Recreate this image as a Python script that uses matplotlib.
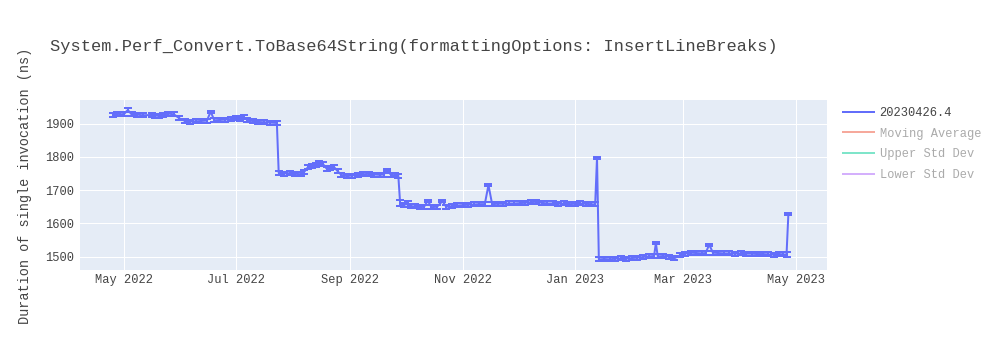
import matplotlib
matplotlib.use("Agg")
import matplotlib.pyplot as plt
import matplotlib.dates as mdates
from matplotlib.lines import Line2D
import pandas as pd

title = "System.Perf_Convert.ToBase64String(formattingOptions: InsertLineBreaks)"
y_label = "Duration of single invocation (ns)"
legend_labels = ["20230426.4", "Moving Average", "Upper Std Dev", "Lower Std Dev"]
legend_colors = ["#636efa", "#EF553B", "#00cc96", "#ab63fa"]
legend_visible = [True, False, False, False]

dates = [
    "2022-04-25", "2022-04-27", "2022-04-29", "2022-05-01", "2022-05-03", "2022-05-05", "2022-05-08", "2022-05-11",
    "2022-05-16", "2022-05-18", "2022-05-20", "2022-05-22", "2022-05-25", "2022-05-28", "2022-05-31",
    "2022-06-03", "2022-06-06", "2022-06-09", "2022-06-12", "2022-06-15", "2022-06-17", "2022-06-19", "2022-06-22", "2022-06-25", "2022-06-28",
    "2022-07-01", "2022-07-03", "2022-07-05", "2022-07-07", "2022-07-10", "2022-07-13", "2022-07-16", "2022-07-19", "2022-07-23",
    "2022-07-24", "2022-07-27", "2022-07-30", "2022-08-02", "2022-08-05", "2022-08-07", "2022-08-09", "2022-08-11", "2022-08-13",
    "2022-08-15", "2022-08-17", "2022-08-19", "2022-08-21", "2022-08-23", "2022-08-25", "2022-08-27", "2022-08-30",
    "2022-09-02", "2022-09-05", "2022-09-08", "2022-09-11", "2022-09-14", "2022-09-17", "2022-09-19", "2022-09-21", "2022-09-23", "2022-09-25", "2022-09-27",
    "2022-09-28", "2022-09-30", "2022-10-02", "2022-10-04", "2022-10-06", "2022-10-09", "2022-10-11", "2022-10-13", "2022-10-15", "2022-10-18", "2022-10-21", "2022-10-23", "2022-10-26", "2022-10-29",
    "2022-11-01", "2022-11-04", "2022-11-07", "2022-11-10", "2022-11-13", "2022-11-15", "2022-11-17", "2022-11-20", "2022-11-23", "2022-11-26", "2022-11-29",
    "2022-12-02", "2022-12-05", "2022-12-08", "2022-12-11", "2022-12-14", "2022-12-17", "2022-12-20", "2022-12-23", "2022-12-26", "2022-12-29",
    "2023-01-01", "2023-01-04", "2023-01-07", "2023-01-10", "2023-01-12", "2023-01-13",
    "2023-01-14", "2023-01-17", "2023-01-20", "2023-01-23", "2023-01-26", "2023-01-29",
    "2023-02-01", "2023-02-04", "2023-02-07", "2023-02-10", "2023-02-13", "2023-02-14", "2023-02-15", "2023-02-18", "2023-02-21", "2023-02-24", "2023-02-27",
    "2023-03-02", "2023-03-05", "2023-03-08", "2023-03-11", "2023-03-13", "2023-03-15", "2023-03-17", "2023-03-20", "2023-03-23", "2023-03-26", "2023-03-29",
    "2023-04-01", "2023-04-04", "2023-04-07", "2023-04-10", "2023-04-13", "2023-04-16", "2023-04-19", "2023-04-22", "2023-04-24", "2023-04-26", "2023-04-27",
]

values = [
    1927, 1930, 1928, 1929, 1941, 1928, 1927, 1925,
    1926, 1924, 1923, 1927, 1930, 1928, 1916,
    1908, 1906, 1907, 1908, 1909, 1936, 1910, 1911, 1912, 1914,
    1917, 1914, 1919, 1912, 1907, 1905, 1904, 1903, 1902,
    1752, 1750, 1751, 1749, 1748, 1756, 1770, 1773, 1776,
    1783, 1779, 1765, 1768, 1770, 1757, 1746, 1742,
    1744, 1746, 1748, 1749, 1747, 1746, 1747, 1760, 1746, 1745, 1744,
    1660, 1656, 1658, 1652, 1651, 1649, 1650, 1668, 1649, 1650, 1667, 1650, 1652, 1654,
    1655, 1656, 1657, 1658, 1658, 1715, 1658, 1659, 1659, 1660, 1660,
    1661, 1662, 1664, 1665, 1662, 1660, 1660, 1659, 1660, 1658,
    1659, 1660, 1659, 1658, 1657, 1797,
    1492, 1493, 1492, 1494, 1495, 1494,
    1496, 1497, 1499, 1501, 1502, 1541, 1501, 1502, 1500, 1495, 1504,
    1509, 1512, 1511, 1510, 1511, 1536, 1512, 1511, 1510, 1510, 1509,
    1510, 1509, 1509, 1508, 1508, 1507, 1506, 1508, 1507, 1506, 1628,
]

errors = [
    6, 6, 6, 6, 5, 6, 6, 6,
    6, 6, 6, 6, 6, 6, 6,
    6, 6, 6, 6, 6, 3, 6, 6, 6, 6,
    6, 6, 6, 6, 6, 6, 6, 6, 6,
    6, 6, 6, 6, 6, 6, 6, 6, 6,
    6, 6, 6, 6, 6, 6, 6, 6,
    6, 6, 6, 6, 6, 6, 6, 3, 6, 6, 6,
    9, 6, 9, 6, 6, 6, 6, 3, 6, 6, 3, 6, 6, 6,
    6, 6, 6, 6, 6, 3, 6, 6, 6, 6, 6,
    6, 6, 6, 6, 6, 6, 6, 6, 6, 6,
    6, 6, 6, 6, 6, 3,
    6, 6, 6, 6, 6, 6,
    6, 6, 6, 6, 6, 3, 6, 6, 6, 6, 6,
    6, 6, 6, 6, 6, 3, 6, 6, 6, 6, 6,
    6, 6, 6, 6, 6, 6, 6, 6, 6, 7, 3,
]

FONT = "Liberation Mono"
TXT = "#444444"
PX = 0.72  # points per pixel at dpi 100

x = pd.to_datetime(dates)

fig = plt.figure(figsize=(10, 3.5), dpi=100)
ax = fig.add_axes([0.08, 1 - 270 / 350, 0.827 - 0.08, 170 / 350])
ax.set_facecolor("#E5ECF6")
for s in ax.spines.values():
    s.set_visible(False)

ax.errorbar(x, values, yerr=errors, color=legend_colors[0], lw=2 * PX,
            elinewidth=2 * PX, capsize=4 * PX, capthick=2 * PX, zorder=3)

ax.set_xlim(pd.Timestamp("2022-04-07"), pd.Timestamp("2023-05-18"))
ax.set_ylim(1460, 1971)
ax.set_yticks([1500, 1600, 1700, 1800, 1900])
ax.xaxis.set_major_locator(mdates.MonthLocator(bymonth=[1, 3, 5, 7, 9, 11]))
ax.xaxis.set_major_formatter(mdates.DateFormatter("%b %Y"))
ax.grid(True, color="white", lw=1 * PX, zorder=0)
ax.set_axisbelow(True)
ax.tick_params(length=0, pad=6 * PX, labelsize=12 * PX, labelcolor=TXT)
ax.tick_params(axis="x", pad=4 * PX)
for lab in ax.get_xticklabels() + ax.get_yticklabels():
    lab.set_family(FONT)

fig.text(0.025, (1 - 186 / 350), y_label, rotation=90, ha="center", va="center",
         fontsize=13.5 * PX, color=TXT, family=FONT)
fig.text(0.05, 1 - 46 / 350, title, ha="left", va="center",
         fontsize=17 * PX, color=TXT, family=FONT)

handles = []
for c, vis in zip(legend_colors, legend_visible):
    handles.append(Line2D([0], [0], color=c, lw=2 * PX, alpha=1.0 if vis else 0.5))
leg = fig.legend(handles, legend_labels, loc="upper left",
                 bbox_to_anchor=(843 / 1000, 1 - 107 / 350), frameon=False,
                 prop={"family": FONT, "size": 12 * PX}, handlelength=2.6,
                 handletextpad=0.45, labelspacing=0.72, borderpad=0, borderaxespad=0)
for t, vis in zip(leg.get_texts(), legend_visible):
    t.set_color(TXT)
    t.set_alpha(1.0 if vis else 0.45)

fig.savefig("out.png", dpi=100)
